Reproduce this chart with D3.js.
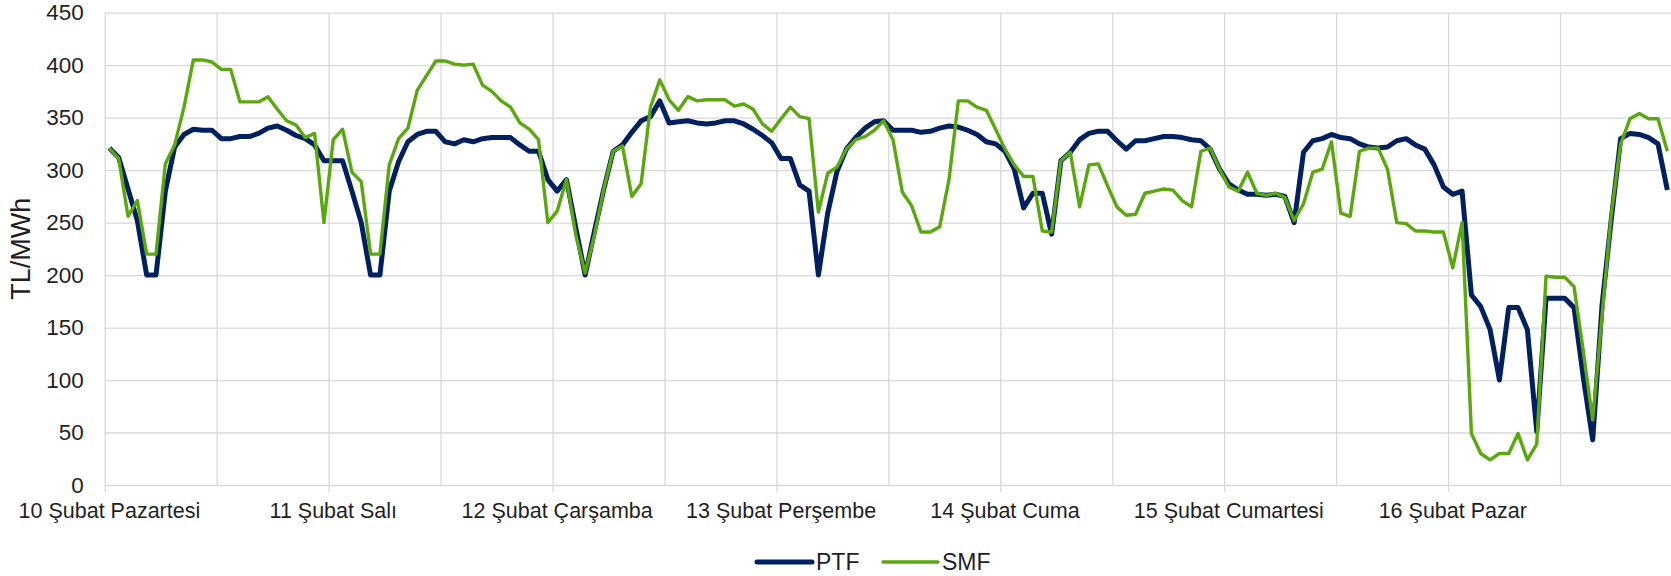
<!DOCTYPE html>
<html>
<head>
<meta charset="utf-8">
<script src="https://cdn.jsdelivr.net/npm/d3@7/dist/d3.min.js"></script>
<style>
    body { margin: 0; background: #fff; }
    svg { display: block; }
    text { font-family: "Liberation Sans", Arial, sans-serif; fill: #1f1f1f; }
    .grid line { stroke: #d9d9d9; stroke-width: 1.3; }
    .grid .domain { display: none; }
</style>
</head>
<body>
<div id="chart"></div>
<script>

// day labels (one every 24 hours)
var days = ["10 Şubat Pazartesi", "11 Şubat Salı", "12 Şubat Çarşamba", "13 Şubat Perşembe",
            "14 Şubat Cuma", "15 Şubat Cumartesi", "16 Şubat Pazar"];

var seriesNames = ["PTF", "SMF"];

// hourly PTF, TL/MWh
var ptf = [321, 312, 282, 252, 200, 200, 280, 322, 334, 339, 338, 338, 330, 330, 332, 332, 335, 340, 342, 338, 333, 330, 324, 309,
           309, 309, 280, 250, 200, 200, 280, 308, 327, 334, 337, 337, 327, 325, 329, 327, 330, 331, 331, 331, 324, 318, 318, 291,
           280, 291, 245, 200, 242, 282, 318, 324, 336, 347, 351, 366, 345, 346, 347, 345, 344, 345, 347, 347, 344, 339, 333, 326,
           311, 311, 286, 280, 200, 259, 299, 320, 331, 340, 346, 347, 338, 338, 338, 336, 337, 340, 342, 341, 338, 334, 327, 325,
           318, 301, 264, 278, 278, 239, 309, 317, 329, 335, 337, 337, 328, 320, 328, 328, 330, 332, 332, 331, 329, 328, 320, 301,
           287, 281, 277, 277, 276, 277, 275, 250, 317, 328, 330, 334, 331, 330, 325, 322, 321, 322, 328, 330, 324, 320, 305, 284,
           277, 280, 181, 170, 148, 100, 169, 169, 148, 51, 178, 178, 178, 169, 102, 43, 171, 254, 330, 335, 334, 331, 325, 281];

// hourly SMF, TL/MWh
var smf = [321, 311, 256, 271, 220, 220, 306, 324, 360, 405, 405, 403, 396, 396, 365, 365, 365, 370, 358, 347, 343, 331, 335, 250,
           329, 339, 298, 289, 220, 220, 305, 330, 340, 376, 390, 404, 404, 401, 400, 401, 381, 375, 366, 360, 345, 339, 329, 250,
           261, 291, 238, 202, 238, 282, 318, 323, 275, 287, 360, 386, 367, 357, 370, 366, 367, 367, 367, 361, 363, 358, 344, 337,
           349, 360, 351, 349, 260, 297, 303, 320, 329, 332, 338, 347, 329, 279, 266, 241, 241, 246, 291, 366, 366, 360, 357, 339,
           320, 305, 294, 294, 242, 241, 309, 317, 265, 305, 306, 285, 265, 257, 258, 278, 280, 282, 281, 271, 265, 318, 321, 301,
           284, 280, 298, 278, 276, 278, 274, 252, 268, 298, 301, 327, 259, 256, 318, 321, 321, 301, 250, 249, 242, 242, 241, 241,
           207, 250, 49, 30, 24, 30, 30, 49, 24, 39, 199, 198, 198, 189, 127, 62, 161, 259, 325, 349, 354, 349, 349, 318];

var yTicks = [0, 50, 100, 150, 200, 250, 300, 350, 400, 450];

var margin = {top: 12.7, right: 0, bottom: 91, left: 104.7};
var width = 1567.3,
    height = 576 - margin.top - margin.bottom;

var hours = d3.range(ptf.length);

var xScale = d3.scaleBand()
    .domain(hours)
    .range([0, width]);

// band edges, for the grid and tick marks
var edgeScale = d3.scaleLinear()
    .domain([0, hours.length])
    .range([0, width]);

var yScale = d3.scaleLinear()
    .domain([0, 450])
    .range([height, 0]);

var svg = d3.select("#chart")
    .append("svg")
    .attr("width", 1671)
    .attr("height", 576)
    .append("g")
    .attr("transform", "translate(" + margin.left + "," + margin.top + ")");

// horizontal grid + y labels
var yAxis = svg.append("g")
    .attr("class", "grid")
    .call(d3.axisLeft(yScale).tickValues(yTicks).tickSize(-width).tickPadding(21));
yAxis.selectAll("text")
    .style("font-size", "22.5px");

// vertical grid every 12 hours
svg.append("g")
    .attr("class", "grid")
    .attr("transform", "translate(0," + height + ")")
    .call(d3.axisBottom(edgeScale).tickValues(d3.range(0, hours.length + 1, 12)).tickSize(-height).tickFormat(""));

// small tick marks below the axis every day
svg.append("g")
    .attr("class", "grid")
    .attr("transform", "translate(0," + height + ")")
    .call(d3.axisBottom(edgeScale).tickValues(d3.range(0, hours.length + 1, 24)).tickSize(7).tickFormat(""));

// day labels
var xAxis = svg.append("g")
    .attr("class", "grid")
    .attr("transform", "translate(0," + height + ")")
    .call(d3.axisBottom(xScale)
        .tickValues(d3.range(0, hours.length, 24))
        .tickSize(0)
        .tickPadding(18)
        .tickFormat(function(d) { return days[d / 24]; }));
xAxis.selectAll("text")
    .style("font-size", "21.5px");

function line(values) {
    return d3.line()
        .x(function(d, i) { return xScale(i) + xScale.bandwidth() / 2; })
        .y(function(d) { return yScale(d); })(values);
}

svg.append("path")
    .attr("d", line(ptf))
    .attr("fill", "none")
    .attr("stroke", "#002060")
    .attr("stroke-width", 5)
    .attr("stroke-linejoin", "round");

svg.append("path")
    .attr("d", line(smf))
    .attr("fill", "none")
    .attr("stroke", "#5ba70e")
    .attr("stroke-width", 3.4)
    .attr("stroke-linejoin", "round");

// y title
d3.select("svg").append("text")
    .attr("transform", "translate(30," + (margin.top + height / 2) + ") rotate(-90)")
    .attr("text-anchor", "middle")
    .style("font-size", "27px")
    .text("TL/MWh");

// legend
var legend = d3.select("svg").append("g")
    .attr("transform", "translate(757,562)");

var legendX = [0, 126];
var legendColors = ["#002060", "#5ba70e"];
var legendWidths = [5, 3.4];

seriesNames.forEach(function(name, i) {
    legend.append("line")
        .attr("x1", legendX[i])
        .attr("x2", legendX[i] + 55)
        .attr("y1", 0)
        .attr("y2", 0)
        .attr("stroke", legendColors[i])
        .attr("stroke-width", legendWidths[i])
        .attr("stroke-linecap", "round");
    legend.append("text")
        .attr("x", legendX[i] + 59)
        .attr("y", 8)
        .style("font-size", "23px")
        .text(name);
});

</script>
</body>
</html>
